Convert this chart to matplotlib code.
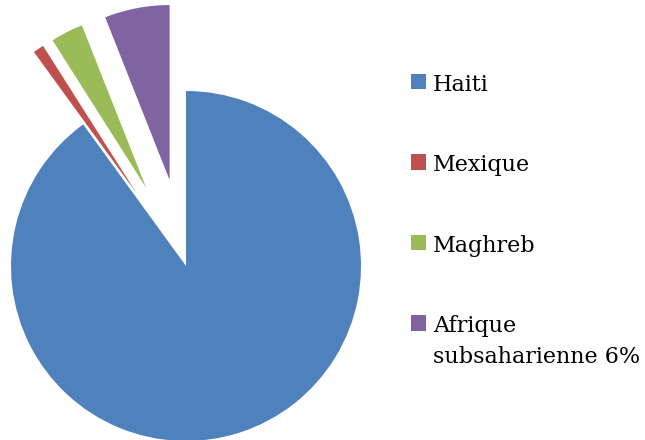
import matplotlib
matplotlib.use("Agg")
import matplotlib.pyplot as plt

labels = ["Haiti", "Mexique", "Maghreb", "Afrique\nsubsaharienne 6%"]
values = [90, 1, 3, 6]
colors = ["#4F81BD", "#C0504D", "#9BBB59", "#8064A2"]
explode = [0, 0.5, 0.5, 0.5]

W, H = 645, 440
fig = plt.figure(figsize=(W / 100, H / 100), dpi=100)
cx, cy, r = 186, 266, 175
ax = fig.add_axes([0, 0, 380 / W, 1])
wedges, _ = ax.pie(values, colors=colors, explode=explode, startangle=90,
                   counterclock=False, radius=1,
                   wedgeprops=dict(linewidth=0))
ax.set_aspect("auto")
ax.set_xlim((0 - cx) / r, (380 - cx) / r)
ax.set_ylim((cy - H) / r, (cy - 0) / r)
ax.axis("off")

leg = fig.legend(wedges, labels, loc="upper left",
                 bbox_to_anchor=(411 / W, 1 - 74 / H),
                 frameon=False, borderpad=0, borderaxespad=0,
                 handlelength=0.68, handleheight=0.68, handletextpad=0.32,
                 labelspacing=2.63,
                 prop=dict(family="DejaVu Serif", size=16))
for t in leg.get_texts():
    t.set_linespacing(1.5)
# align square with first line of each label
for col in leg._legend_handle_box.get_children():
    for item in col.get_children():
        item.align = "top"
fig.savefig("out.png", dpi=100)
